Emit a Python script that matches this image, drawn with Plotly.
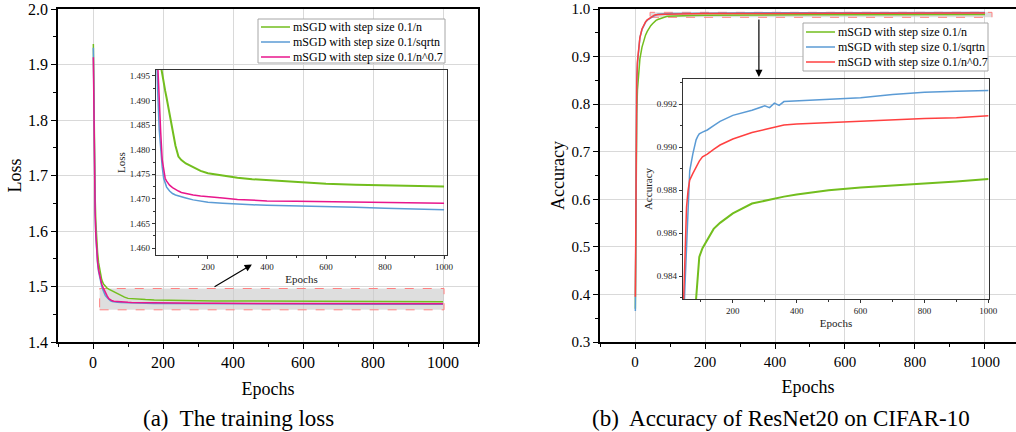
import plotly.graph_objects as go

# ---------------- data ----------------
series_names = ["mSGD with step size 0.1/n", "mSGD with step size 0.1/sqrtn", "mSGD with step size 0.1/n^0.7"]

loss_epochs = [1, 2, 4, 6, 8, 10, 13, 16, 20, 25, 30, 35, 40, 45, 50, 55, 60, 70, 80, 90,
               100, 110, 125, 150, 175, 200, 250, 300, 350, 400, 500, 600, 700, 800, 900, 1000]
loss_n = [1.937, 1.86, 1.74, 1.665, 1.618, 1.59, 1.562, 1.543, 1.525, 1.512, 1.5045, 1.5, 1.4972, 1.4952,
          1.4935, 1.4920, 1.4905, 1.4870, 1.4835, 1.4808, 1.4786, 1.4779, 1.4772, 1.4764, 1.4757, 1.4752,
          1.4747, 1.4743, 1.4740, 1.4738, 1.4734, 1.4731, 1.4729, 1.4728, 1.4727, 1.4725]
loss_sqrtn = [1.930, 1.83, 1.70, 1.633, 1.592, 1.566, 1.542, 1.527, 1.512, 1.5, 1.4915, 1.4840, 1.4800, 1.4765,
              1.4742, 1.4731, 1.4724, 1.4716, 1.4711, 1.4708, 1.4706, 1.4704, 1.4702, 1.4698, 1.4695, 1.4693,
              1.4691, 1.4689, 1.4688, 1.4687, 1.4686, 1.4684, 1.4683, 1.4681, 1.4680, 1.4678]
loss_n07 = [1.913, 1.82, 1.70, 1.635, 1.595, 1.568, 1.545, 1.53, 1.515, 1.504, 1.4965, 1.489, 1.4835, 1.478,
            1.4755, 1.4742, 1.4736, 1.4728, 1.4723, 1.4719, 1.4716, 1.4713, 1.4711, 1.4708, 1.4706, 1.4705,
            1.4702, 1.4699, 1.4697, 1.4696, 1.4695, 1.4694, 1.4693, 1.4692, 1.4692, 1.4691]

acc_epochs = [1, 2, 3, 5, 7, 10, 14, 20, 25, 30, 35, 40, 45, 50, 55, 60, 65, 75, 85, 90, 95, 105, 120,
              140, 160, 200, 260, 300, 315, 330, 345, 360, 400, 500, 600, 700, 800, 900, 1000]
acc_n = [0.37, 0.55, 0.68, 0.78, 0.83, 0.865, 0.895, 0.92, 0.935, 0.945, 0.953, 0.96, 0.965, 0.969, 0.973,
         0.976, 0.978, 0.981, 0.9832, 0.9841, 0.9849, 0.9853, 0.9857, 0.9862, 0.98648, 0.98692, 0.98738,
         0.98752, 0.98755, 0.9876, 0.98765, 0.9877, 0.9878, 0.9880, 0.98812, 0.98823, 0.98831, 0.9884, 0.98852]
acc_sqrtn = [0.365, 0.58, 0.73, 0.84, 0.885, 0.915, 0.94, 0.957, 0.966, 0.972, 0.9765, 0.9795, 0.9815, 0.9835,
             0.9855, 0.9876, 0.9889, 0.9897, 0.99034, 0.9905, 0.99062, 0.9907, 0.9908, 0.9910, 0.9912, 0.99148,
             0.99172, 0.99192, 0.99184, 0.99205, 0.99194, 0.99212, 0.99215, 0.99222, 0.9923, 0.99245, 0.99255,
             0.9926, 0.99264]
acc_n07 = [0.395, 0.6, 0.75, 0.85, 0.89, 0.92, 0.94, 0.958, 0.967, 0.973, 0.977, 0.98, 0.9825, 0.9848, 0.9872,
           0.9880, 0.98847, 0.98878, 0.9891, 0.98922, 0.98935, 0.98955, 0.98968, 0.9899, 0.9901, 0.99038,
           0.99068, 0.99082, 0.99088, 0.99094, 0.99099, 0.99103, 0.99108, 0.99115, 0.99122, 0.99128, 0.99133,
           0.99137, 0.99146]

# zoom windows (data coordinates)
loss_zoom_x = [19, 1003]
loss_zoom_y = [1.458, 1.4964]
acc_zoom_x = [43, 1020]
acc_zoom_y = [0.9825, 0.993]

captions = ["(a)  The training loss", "(b)  Accuracy of ResNet20 on CIFAR-10"]

# ---------------- style ----------------
GREEN = "#72BE1E"
BLUE = "#5B9BD5"
PINK = "#E8168C"
RED = "#FF4040"
SERIF = "Liberation Serif"
GRID = "#d9d9d9"
W, H = 1016, 432

fig = go.Figure()

loss_series = [(loss_n, GREEN), (loss_sqrtn, BLUE), (loss_n07, PINK)]
acc_series = [(acc_n, GREEN), (acc_sqrtn, BLUE), (acc_n07, RED)]

for name, (vals, col) in zip(series_names, loss_series):
    fig.add_trace(go.Scatter(x=loss_epochs, y=vals, mode="lines", name=name, xaxis="x", yaxis="y",
                             line=dict(color=col, width=1.5), showlegend=False))
for name, (vals, col) in zip(series_names, acc_series):
    fig.add_trace(go.Scatter(x=acc_epochs, y=vals, mode="lines", name=name, xaxis="x2", yaxis="y2",
                             line=dict(color=col, width=1.5), showlegend=False))
for name, (vals, col) in zip(series_names, loss_series):
    fig.add_trace(go.Scatter(x=loss_epochs, y=vals, mode="lines", name=name, xaxis="x3", yaxis="y3",
                             line=dict(color=col, width=2 if col == GREEN else 1.5), showlegend=False))
for name, (vals, col) in zip(series_names, acc_series):
    fig.add_trace(go.Scatter(x=acc_epochs, y=vals, mode="lines", name=name, xaxis="x4", yaxis="y4",
                             line=dict(color=col, width=2 if col == GREEN else 1.5), showlegend=False))


def main_x(domain, rng, anchor, fs):
    return dict(domain=domain, range=rng, tick0=0, dtick=200, showgrid=True, gridcolor=GRID, gridwidth=1,
                zeroline=False, showline=True, linecolor="black", linewidth=1.5, mirror=True, anchor=anchor,
                ticks="outside", ticklen=5, tickwidth=1.2, tickcolor="black", automargin=False,
                minor=dict(dtick=100, tick0=0, ticks="outside", ticklen=3, tickcolor="black", showgrid=False),
                tickfont=dict(family=SERIF, size=fs, color="black"),
                title=dict(text="Epochs", font=dict(family=SERIF, size=18, color="black"), standoff=12))


def main_y(domain, rng, title, anchor, mirror, fs):
    return dict(domain=domain, range=rng, dtick=0.1, tickformat=".1f", showgrid=True, gridcolor=GRID, gridwidth=1,
                zeroline=False, showline=True, linecolor="black", linewidth=1.5, mirror=mirror,
                ticks="outside", ticklen=5, tickwidth=1.2, tickcolor="black", anchor=anchor, automargin=False,
                minor=dict(dtick=0.05, ticks="outside", ticklen=3, tickcolor="black", showgrid=False),
                tickfont=dict(family=SERIF, size=fs, color="black"),
                title=dict(text=title, font=dict(family=SERIF, size=18, color="black"), standoff=2))


def inset_x(domain, rng, anchor):
    return dict(domain=domain, range=rng, tick0=0, dtick=200, showgrid=False, zeroline=False, anchor=anchor,
                showline=True, linecolor="#333333", linewidth=1.2, mirror=True, automargin=False,
                ticks="outside", ticklen=3, tickwidth=1, tickcolor="#333333",
                minor=dict(dtick=100, tick0=0, ticks="outside", ticklen=2, tickcolor="#333333"),
                tickfont=dict(family=SERIF, size=9, color="#222222"),
                title=dict(text="Epochs", font=dict(family=SERIF, size=11, color="#222222"), standoff=4))


def inset_y(domain, rng, anchor, dtick, tick0, title):
    return dict(domain=domain, range=rng, tick0=tick0, dtick=dtick, tickformat=".3f", showgrid=False,
                zeroline=False, anchor=anchor, showline=True, linecolor="#333333", linewidth=1.2, mirror=True,
                ticks="outside", ticklen=3, tickwidth=1, tickcolor="#333333", automargin=False,
                minor=dict(dtick=dtick / 2, tick0=tick0, ticks="outside", ticklen=2, tickcolor="#333333"),
                tickfont=dict(family=SERIF, size=9, color="#222222"),
                title=dict(text=title, font=dict(family=SERIF, size=11, color="#222222"), standoff=1))


def px_x(a, b):
    return [a / W, b / W]


def px_y(top, bottom):
    return [(H - bottom) / H, (H - top) / H]


fig.update_layout(
    width=W, height=H, margin=dict(l=0, r=0, t=0, b=0),
    paper_bgcolor="white", plot_bgcolor="rgba(0,0,0,0)", showlegend=False,
    xaxis=main_x(px_x(58, 478), [-100, 1100], "y", 16),
    yaxis=main_y(px_y(9, 342), [1.4, 2.0], "Loss", "x", True, 16),
    xaxis2=main_x(px_x(600, 1016), [-100, 1088.6], "y2", 15),
    yaxis2=main_y(px_y(9, 342), [0.3, 1.0], "Accuracy", "x2", False, 15),
    xaxis3=inset_x(px_x(156, 447), [24, 1010], "y3"),
    yaxis3=inset_y(px_y(70, 255), [1.4586, 1.4962], "x3", 0.005, 1.46, "Loss"),
    xaxis4=inset_x(px_x(683, 989), [44, 1002], "y4"),
    yaxis4=inset_y(px_y(79, 299), [0.98294, 0.99317], "x4", 0.002, 0.984, "Accuracy"),
)

# zoom rectangles
fig.add_shape(type="rect", xref="x", yref="y", x0=loss_zoom_x[0], x1=loss_zoom_x[1],
              y0=loss_zoom_y[0], y1=loss_zoom_y[1], layer="between",
              fillcolor="rgba(200,200,200,0.6)", line=dict(color="#ff8080", width=1, dash="dash"))
fig.add_shape(type="rect", xref="x2", yref="y2", x0=acc_zoom_x[0], x1=acc_zoom_x[1],
              y0=acc_zoom_y[0], y1=acc_zoom_y[1], layer="between",
              fillcolor="rgba(200,200,200,0.6)", line=dict(color="#ff8080", width=1, dash="dash"))

# arrows
fig.add_annotation(xref="x", yref="y", axref="x", ayref="y", x=454, y=1.5396, ax=343, ay=1.498,
                   showarrow=True, arrowhead=2, arrowsize=1.2, arrowwidth=1.2, arrowcolor="black", text="")
fig.add_annotation(xref="x2", yref="y2", axref="x2", ayref="y2", x=354, y=0.857, ax=354, ay=0.981,
                   showarrow=True, arrowhead=2, arrowsize=1.2, arrowwidth=1.2, arrowcolor="black", text="")


# legends drawn as boxes with line samples and text
def add_legend(box, line_x, text_x, rows, colors):
    x0, y0, x1, y1 = box
    fig.add_shape(type="rect", xref="paper", yref="paper", x0=x0 / W, x1=x1 / W,
                  y0=(H - y1) / H, y1=(H - y0) / H, fillcolor="white",
                  line=dict(color="#a6a6a6", width=1), layer="above")
    for name, col, ry in zip(series_names, colors, rows):
        fig.add_shape(type="line", xref="paper", yref="paper", x0=line_x[0] / W, x1=line_x[1] / W,
                      y0=(H - ry) / H, y1=(H - ry) / H, line=dict(color=col, width=1.5), layer="above")
        fig.add_annotation(xref="paper", yref="paper", x=text_x / W, y=(H - ry) / H, text=name,
                           showarrow=False, xanchor="left", yanchor="middle",
                           font=dict(family=SERIF, size=12, color="black"))


add_legend((258, 19, 445, 63), (261, 290), 291, (27, 42, 57), [GREEN, BLUE, PINK])
add_legend((803, 23, 988, 71), (806, 835), 836, (32, 47, 62), [GREEN, BLUE, RED])

# captions
fig.add_annotation(xref="paper", yref="paper", x=238 / W, y=(H - 418) / H, text=captions[0],
                   showarrow=False, font=dict(family=SERIF, size=23, color="black"),
                   xanchor="center", yanchor="middle")
fig.add_annotation(xref="paper", yref="paper", x=781 / W, y=(H - 418) / H, text=captions[1],
                   showarrow=False, font=dict(family=SERIF, size=23, color="black"),
                   xanchor="center", yanchor="middle")

fig.write_html("out.html", config={"displayModeBar": False},
               post_script="document.body.style.margin='0';document.body.style.padding='0';"
                           "document.body.style.overflow='hidden';")
